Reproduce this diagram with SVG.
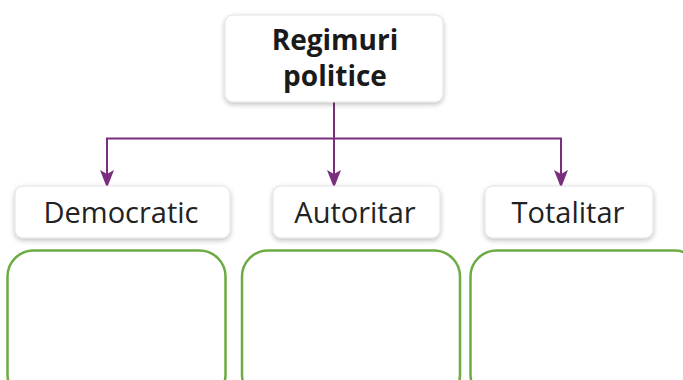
<svg xmlns="http://www.w3.org/2000/svg" width="683" height="380" viewBox="0 0 683 380">
<style>
.box{fill:#ffffff;stroke:#e2e2e2;stroke-width:1;filter:url(#sh)}
.lbl{font-family:"Open Sans","Noto Sans",sans-serif;font-size:29px;fill:#222222;text-anchor:middle}
.ttl{font-family:"Open Sans","Noto Sans",sans-serif;font-size:28px;font-weight:bold;fill:#1a1a1a;text-anchor:middle}
.gbox{fill:none;stroke:#6cab43;stroke-width:2.5}
.con{fill:none;stroke:#7a2e7e;stroke-width:2}
</style>
<defs>
<filter id="sh" x="-10%" y="-20%" width="120%" height="150%">
<feDropShadow dx="0" dy="2" stdDeviation="2.5" flood-color="#000000" flood-opacity="0.25"/>
</filter>
<marker id="ar" markerWidth="18" markerHeight="14" refX="17" refY="7" orient="auto-start-reverse" markerUnits="userSpaceOnUse" viewBox="0 0 18 14">
<path d="M0,0 L4,7 L0,14 L18,7 Z" fill="#7a2e7e"/>
</marker>
</defs>
<rect width="683" height="380" fill="#ffffff"/>
<g id="connectors">
<line class="con" x1="334" y1="102" x2="334" y2="187" marker-end="url(#ar)"/>
<polyline class="con" points="107,187 107,138.5 561,138.5 561,187" marker-start="url(#ar)" marker-end="url(#ar)"/>
</g>
<g id="node-regimuri">
<rect class="box" x="225" y="15" width="218" height="87" rx="8"/>
<text class="ttl" x="335" y="50">Regimuri</text>
<text class="ttl" x="335" y="86">politice</text>
</g>
<g id="node-democratic">
<rect class="box" x="15" y="186" width="215" height="52" rx="8"/>
<text class="lbl" x="121" y="223">Democratic</text>
</g>
<g id="node-autoritar">
<rect class="box" x="273" y="186" width="167" height="52" rx="8"/>
<text class="lbl" x="355" y="223">Autoritar</text>
</g>
<g id="node-totalitar">
<rect class="box" x="485" y="186" width="168" height="52" rx="8"/>
<text class="lbl" x="568" y="223">Totalitar</text>
</g>
<g id="box-1"><rect class="gbox" x="7.5" y="250.5" width="218" height="150" rx="26"/></g>
<g id="box-2"><rect class="gbox" x="242" y="250.5" width="218" height="150" rx="26"/></g>
<g id="box-3"><rect class="gbox" x="470.5" y="250.5" width="230" height="150" rx="26"/></g>
</svg>
